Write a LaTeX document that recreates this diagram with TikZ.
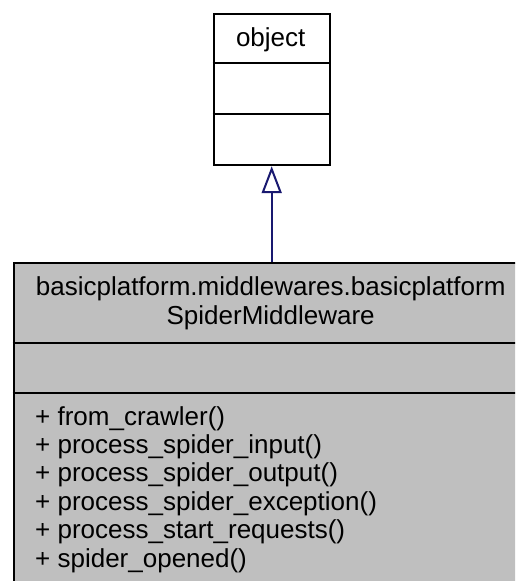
\documentclass[tikz,border=0pt]{standalone}
\usepackage{fontspec}
\setmainfont{Liberation Sans}
\usetikzlibrary{arrows.meta}
\definecolor{edgeblue}{HTML}{191970}
\definecolor{boxgray}{HTML}{BFBFBF}
\begin{document}
\begin{tikzpicture}[x=1pt,y=-1pt,
  umlbox/.style={draw=black,line width=2pt,rectangle,inner sep=0pt},
  divider/.style={line width=2pt},
  txt/.style={inner sep=0pt,font=\fontsize{26}{29}\selectfont},
  inherit/.style={draw=edgeblue,line width=2pt,-{Triangle[open,length=27pt,width=20pt,line width=2pt]}}]
\useasboundingbox (0,0) rectangle (515,581);
\clip (0,0) rectangle (515,581);
% object class
\node[umlbox,minimum width=116pt,minimum height=151.5pt,anchor=north west] (obj) at (212.7,12.7) {};
\draw[divider] (212.7,62.7) -- (328.7,62.7);
\draw[divider] (212.7,114) -- (328.7,114);
\node[txt,anchor=base] (objname) at (270.7,46) {object};
% derived class
\node[umlbox,fill=boxgray,minimum width=516pt,minimum height=340pt,anchor=north west] (mw) at (12.7,262) {};
\draw[divider] (12.7,342.5) -- (528.7,342.5);
\draw[divider] (12.7,392.7) -- (528.7,392.7);
\node[txt,anchor=base] (t1) at (270.7,295.5) {basicplatform.middlewares.basicplatform};
\node[txt,anchor=base] (t2) at (270.7,324) {SpiderMiddleware};
\node[txt,anchor=base west] (m1) at (35,425) {+ from\_crawler()};
\node[txt,anchor=base west] (m2) at (35,453.4) {+ process\_spider\_input()};
\node[txt,anchor=base west] (m3) at (35,481.8) {+ process\_spider\_output()};
\node[txt,anchor=base west] (m4) at (35,510.2) {+ process\_spider\_exception()};
\node[txt,anchor=base west] (m5) at (35,538.6) {+ process\_start\_requests()};
\node[txt,anchor=base west] (m6) at (35,567) {+ spider\_opened()};
% inheritance
\draw[inherit] (mw.north -| obj.south) -- (obj.south);
\end{tikzpicture}
\end{document}
